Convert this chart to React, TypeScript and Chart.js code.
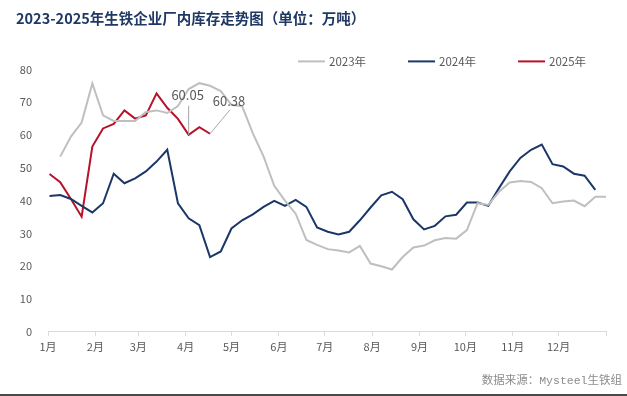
import React, { useEffect, useRef } from "react";
import { Chart, registerables } from "chart.js";

Chart.register(...registerables);

// ---------- data ----------
const chartTitle = "2023-2025年生铁企业厂内库存走势图（单位：万吨）";
const sourceText = "数据来源：Mysteel生铁组";

const monthLabels = ["1月", "2月", "3月", "4月", "5月", "6月", "7月", "8月", "9月", "10月", "11月", "12月"];
const monthStartDays = [0, 31, 59, 90, 120, 151, 181, 212, 243, 273, 304, 334];
const yearDays = 365;

const yMin = 0;
const yMax = 80;
const yStep = 10;

const label2023 = "2023年";
const label2024 = "2024年";
const label2025 = "2025年";

// weekly values; first week's day-of-year for each series
const start2023 = 8;
const start2024 = 1;
const start2025 = 1;

const series2023 = [
  53.4, 59.5, 63.8, 75.7, 66.0, 64.3, 64.3, 64.3, 67.0, 67.5, 66.7, 68.8, 74.0,
  75.8, 75.0, 73.4, 69.2, 68.8, 60.5, 53.5, 44.5, 40.0, 36.0, 28.0, 26.5, 25.2,
  24.8, 24.2, 26.2, 20.8, 20.0, 19.0, 22.8, 25.7, 26.3, 27.9, 28.6, 28.4, 31.0,
  39.2, 38.7, 42.7, 45.5, 46.0, 45.7, 43.8, 39.2, 39.7, 40.0, 38.3, 41.2, 41.2,
];

const series2024 = [
  41.4, 41.7, 40.5, 38.4, 36.4, 39.2, 48.2, 45.3, 46.8, 48.9, 51.9, 55.5, 39.2,
  34.6, 32.5, 22.8, 24.5, 31.5, 34.0, 35.8, 38.1, 39.9, 38.4, 40.2, 38.1, 31.8,
  30.5, 29.7, 30.5, 34.0, 37.9, 41.6, 42.7, 40.4, 34.3, 31.2, 32.3, 35.2, 35.7,
  39.4, 39.4, 38.4, 43.8, 48.9, 53.0, 55.5, 57.1, 51.1, 50.4, 48.2, 47.6, 43.3,
];

const series2025 = [
  48.1, 45.6, 40.5, 35.1, 56.5, 62.0, 63.4, 67.5, 65.0, 66.0, 72.7, 68.3, 64.9,
  60.05, 62.4, 60.38,
];

// indices of 2025 points that carry a value label
const labeled2025 = [13, 15];

// ---------- styles ----------
const FONT = "'Noto Sans CJK SC', 'Noto Sans', sans-serif";
const COLOR_2023 = "#BFBFBF";
const COLOR_2024 = "#1B3768";
const COLOR_2025 = "#B8122A";
const TEXT_GRAY = "#595959";
const AXIS_GRAY = "#D9D9D9";

const toPoints = (vals: number[], startDay: number) =>
  vals.map((v, i) => ({ x: startDay + 7 * i, y: v }));

const legendPlugin = {
  id: "lineLegend",
  afterDraw(chart: any) {
    const { ctx, chartArea } = chart;
    ctx.save();
    ctx.font = `11.5px ${FONT}`;
    ctx.textBaseline = "middle";
    ctx.textAlign = "left";
    const y = chartArea.top - 8;
    let x = 298;
    chart.data.datasets.forEach((ds: any) => {
      ctx.strokeStyle = ds.borderColor;
      ctx.lineWidth = 2;
      ctx.beginPath();
      ctx.moveTo(x, y);
      ctx.lineTo(x + 27, y);
      ctx.stroke();
      x += 31;
      ctx.fillStyle = TEXT_GRAY;
      ctx.fillText(ds.label, x, y);
      x += ctx.measureText(ds.label).width + 42;
    });
    ctx.restore();
  },
};

const labelOffsets = [
  { lx: 0, ly: -29, tx: -1, ty: -40 },
  { lx: 20, ly: -24, tx: 19, ty: -33 },
];

const annotationPlugin = {
  id: "valueLabels",
  afterDatasetsDraw(chart: any) {
    const { ctx } = chart;
    const meta = chart.getDatasetMeta(2);
    ctx.save();
    ctx.font = `13px ${FONT}`;
    ctx.textAlign = "center";
    ctx.textBaseline = "middle";
    labeled2025.forEach((idx, k) => {
      const pt = meta.data[idx];
      if (!pt) return;
      const o = labelOffsets[k];
      ctx.strokeStyle = "#A6A6A6";
      ctx.lineWidth = 1;
      ctx.beginPath();
      ctx.moveTo(pt.x, pt.y);
      ctx.lineTo(pt.x + o.lx, pt.y + o.ly);
      ctx.stroke();
      ctx.fillStyle = TEXT_GRAY;
      ctx.fillText(series2025[idx].toFixed(2), pt.x + o.tx, pt.y + o.ty);
    });
    ctx.restore();
  },
};

const footerPlugin = {
  id: "footer",
  afterDraw(chart: any) {
    const { ctx, width, height } = chart;
    ctx.save();
    ctx.font = `11.5px 'Liberation Mono', ${FONT}`;
    ctx.fillStyle = "#8C8C8C";
    ctx.textAlign = "right";
    ctx.textBaseline = "middle";
    ctx.fillText(sourceText, width - 5, height - 15);
    ctx.fillStyle = "#4A4A4A";
    ctx.fillRect(0, height - 2, width, 2);
    ctx.restore();
  },
};

export default function App() {
  const ref = useRef<HTMLCanvasElement>(null);

  useEffect(() => {
    if (!ref.current) return;
    const common = { borderWidth: 2, pointRadius: 0, tension: 0, fill: false };
    const chart = new Chart(ref.current, {
      type: "line",
      data: {
        datasets: [
          { label: label2023, data: toPoints(series2023, start2023), borderColor: COLOR_2023, backgroundColor: COLOR_2023, ...common },
          { label: label2024, data: toPoints(series2024, start2024), borderColor: COLOR_2024, backgroundColor: COLOR_2024, ...common },
          { label: label2025, data: toPoints(series2025, start2025), borderColor: COLOR_2025, backgroundColor: COLOR_2025, ...common },
        ],
      },
      options: {
        animation: false,
        responsive: false,
        maintainAspectRatio: false,
        layout: { padding: { left: 16, right: 21, top: 0, bottom: 39 } },
        plugins: {
          title: {
            display: true,
            text: chartTitle,
            align: "start",
            color: "#1F3864",
            font: { family: FONT, size: 14.5, weight: "bold" },
            padding: { top: 10, bottom: 42 },
          },
          legend: { display: false },
          tooltip: { enabled: false },
        },
        scales: {
          x: {
            type: "linear",
            min: 0,
            max: yearDays,
            afterBuildTicks: (s: any) => {
              s.ticks = [...monthStartDays, yearDays].map((v) => ({ value: v }));
            },
            ticks: {
              autoSkip: false,
              maxRotation: 0,
              padding: 4,
              color: TEXT_GRAY,
              font: { family: FONT, size: 11 },
              callback: (v: any) => {
                const i = monthStartDays.indexOf(Number(v));
                return i >= 0 ? monthLabels[i] : "";
              },
            },
            grid: { display: true, drawOnChartArea: false, tickLength: 4, color: AXIS_GRAY },
            border: { display: true, color: AXIS_GRAY },
          },
          y: {
            min: yMin,
            max: yMax,
            ticks: { stepSize: yStep, padding: 8, color: TEXT_GRAY, font: { family: FONT, size: 11 } },
            grid: { display: false },
            border: { display: false },
            afterFit: (s: any) => {
              s.width = 32;
            },
          },
        },
      },
      plugins: [legendPlugin, annotationPlugin, footerPlugin],
    } as any);
    return () => chart.destroy();
  }, []);

  return (
    <div style={{ position: "fixed", left: 0, top: 0, width: 627, height: 396, background: "#fff" }}>
      <canvas ref={ref} width={627} height={396} style={{ display: "block" }} />
    </div>
  );
}
